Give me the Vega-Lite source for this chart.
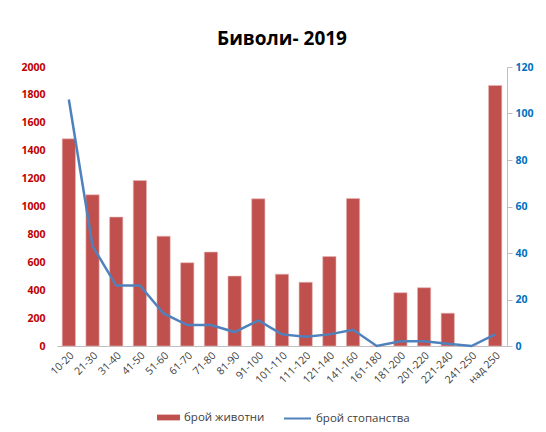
{
  "$schema": "https://vega.github.io/schema/vega-lite/v6.json",
  "width": 450,
  "height": 279,
  "autosize": {"type": "none"},
  "padding": {"left": 57, "top": 67, "right": 39, "bottom": 86},
  "background": "white",
  "title": {"text": "Биволи- 2019", "fontSize": 19, "font": "Open Sans", "fontWeight": "bold", "color": "#000000", "anchor": "middle", "offset": 13},
  "config": {
    "view": {"stroke": null},
    "font": "Open Sans",
    "legend": {"orient": "none", "direction": "horizontal", "labelFont": "Open Sans", "labelFontSize": 11.5, "labelColor": "#404040", "title": null, "labelOffset": 4}
  },
  "data": {
    "values": [
      {"k": "10-20", "animals": 1485, "farms": 106},
      {"k": "21-30", "animals": 1084, "farms": 43},
      {"k": "31-40", "animals": 924, "farms": 26},
      {"k": "41-50", "animals": 1186, "farms": 26},
      {"k": "51-60", "animals": 787, "farms": 14},
      {"k": "61-70", "animals": 597, "farms": 9},
      {"k": "71-80", "animals": 673, "farms": 9},
      {"k": "81-90", "animals": 501, "farms": 6},
      {"k": "91-100", "animals": 1055, "farms": 11},
      {"k": "101-110", "animals": 515, "farms": 5},
      {"k": "111-120", "animals": 457, "farms": 4},
      {"k": "121-140", "animals": 641, "farms": 5},
      {"k": "141-160", "animals": 1058, "farms": 7},
      {"k": "161-180", "animals": 0, "farms": 0},
      {"k": "181-200", "animals": 382, "farms": 2},
      {"k": "201-220", "animals": 418, "farms": 2},
      {"k": "221-240", "animals": 235, "farms": 1},
      {"k": "241-250", "animals": 0, "farms": 0},
      {"k": "над 250", "animals": 1868, "farms": 5}
    ]
  },
  "encoding": {
    "x": {
      "field": "k", "type": "nominal", "sort": null,
      "scale": {"paddingInner": 0.44, "paddingOuter": 0.22},
      "axis": {"title": null, "labelAngle": -45, "labelFontSize": 10.5, "labelColor": "#404040", "ticks": false, "domainColor": "#BFBFBF", "labelPadding": 4}
    }
  },
  "layer": [
    {
      "mark": {"type": "bar", "stroke": "#E6B9B8", "strokeWidth": 0.6},
      "encoding": {
        "y": {
          "field": "animals", "type": "quantitative",
          "scale": {"domain": [0, 2000]},
          "axis": {"title": null, "orient": "left", "format": "d", "values": [0,200,400,600,800,1000,1200,1400,1600,1800,2000], "grid": false, "domain": false, "ticks": false, "labelColor": "#C00000", "labelFontWeight": "bold", "labelFontSize": 10.5, "labelPadding": 12}
        },
        "fill": {
          "datum": "брой животни", "type": "nominal",
          "scale": {"domain": ["брой животни"], "range": ["#C0504D"]},
          "legend": {"symbolType": "M-1,-0.25H1V0.25H-1Z", "symbolSize": 529, "symbolStrokeWidth": 0, "legendX": 100, "legendY": 339}
        }
      }
    },
    {
      "mark": {"type": "line", "strokeWidth": 2.5},
      "encoding": {
        "y": {
          "field": "farms", "type": "quantitative",
          "scale": {"domain": [0, 120]},
          "axis": {"title": null, "orient": "right", "values": [0,20,40,60,80,100,120], "grid": false, "domainColor": "#BFBFBF", "tickColor": "#BFBFBF", "tickSize": 5, "labelColor": "#0070C0", "labelFontWeight": "bold", "labelFontSize": 10.5, "labelPadding": 3}
        },
        "stroke": {
          "datum": "брой стопанства", "type": "nominal",
          "scale": {"domain": ["брой стопанства"], "range": ["#4F81BD"]},
          "legend": {"symbolType": "stroke", "symbolStrokeWidth": 2, "symbolSize": 729, "legendX": 226, "legendY": 337}
        }
      }
    }
  ],
  "resolve": {"scale": {"y": "independent", "fill": "independent", "stroke": "independent"}}
}
